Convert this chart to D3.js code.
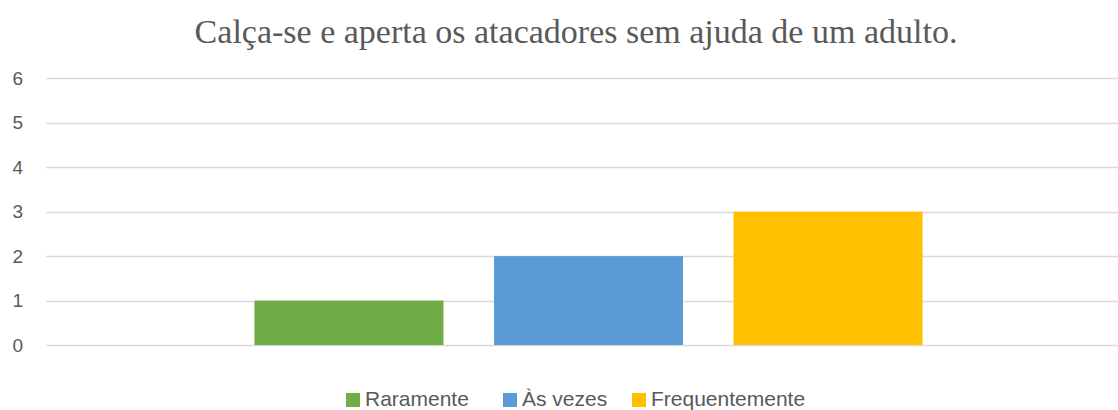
<!DOCTYPE html>
<html><head><meta charset="utf-8">
<script src="https://cdn.jsdelivr.net/npm/d3@7"></script>
<style>body{margin:0;background:#fff;}svg{display:block;}</style>
</head><body>
<svg id="chart" width="1118" height="410"></svg>
<script>
const title = "Calça-se e aperta os atacadores sem ajuda de um adulto.";
const categories = [""];
const seriesNames = ["Raramente", "Às vezes", "Frequentemente"];
const seriesValues = [1, 2, 3];
const seriesColors = ["#70AD47", "#5B9BD5", "#FFC000"];
const yTicks = [0, 1, 2, 3, 4, 5, 6];

const svg = d3.select("#chart");
const W = 1118, H = 410;
const plot = {left: 46, right: 1131, top: 78.3, bottom: 345};

const y = d3.scaleLinear().domain([0, 6]).range([plot.bottom, plot.top]);
const x0 = d3.scaleBand().domain(categories).range([plot.left, plot.right]).paddingInner(0).paddingOuter(0.312);
const x1 = d3.scaleBand().domain(seriesNames).range([0, x0.bandwidth()]).paddingInner(0.211).paddingOuter(0);

// gridlines
const grid = svg.append("g");
grid.selectAll("line").data(yTicks).join("line")
  .attr("x1", plot.left).attr("x2", W)
  .attr("y1", d => Math.round(y(d)) + 0.5).attr("y2", d => Math.round(y(d)) + 0.5)
  .attr("stroke", "#D9D9D9").attr("stroke-width", 1.3);

// y axis labels
const yAxis = d3.axisLeft(y).tickValues(yTicks).tickSize(0).tickPadding(0).tickFormat(d3.format("d"));
const ya = svg.append("g").attr("transform", "translate(23,0)").call(yAxis);
ya.select(".domain").remove();
ya.selectAll("text").attr("font-family", "Liberation Sans, Arial, sans-serif").attr("font-size", 19).attr("fill", "#595959");

// bars
const data = seriesNames.map((s, i) => ({cat: categories[0], name: s, value: seriesValues[i], color: seriesColors[i]}));
svg.append("g").selectAll("rect").data(data).join("rect")
  .attr("x", d => x0(d.cat) + x1(d.name))
  .attr("width", x1.bandwidth())
  .attr("y", d => y(d.value))
  .attr("height", d => y(0) - y(d.value))
  .attr("fill", d => d.color);

// title
svg.append("text").attr("x", 576).attr("y", 43).attr("text-anchor", "middle")
  .attr("font-family", "Liberation Serif, 'DejaVu Serif', serif").attr("font-size", 34)
  .attr("fill", "#595959").text(title);

// legend
const legendX = [346, 503, 632];
const lg = svg.append("g");
const items = lg.selectAll("g").data(data).join("g")
  .attr("transform", (d, i) => `translate(${legendX[i]},393)`);
items.append("rect").attr("width", 14).attr("height", 14).attr("fill", d => d.color);
items.append("text").attr("x", 19).attr("y", 13)
  .attr("font-family", "Liberation Sans, Arial, sans-serif").attr("font-size", 21)
  .attr("fill", "#595959").text(d => d.name);
</script>
</body></html>
